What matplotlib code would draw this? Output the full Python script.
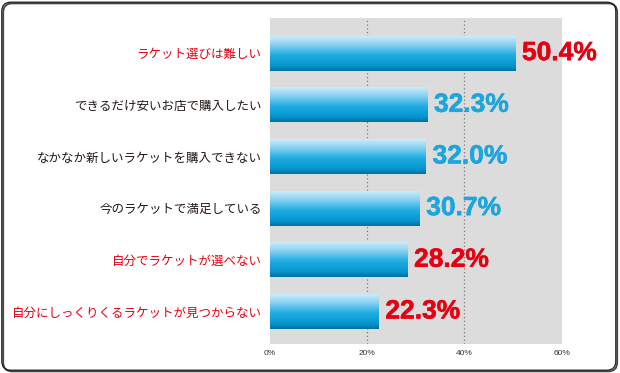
import matplotlib
matplotlib.use("Agg")
import numpy as np
import matplotlib.pyplot as plt
import matplotlib.patheffects as pe
from matplotlib.colors import LinearSegmentedColormap
from matplotlib.patches import FancyBboxPatch

# data
categories = [
    "ラケット選びは難しい",
    "できるだけ安いお店で購入したい",
    "なかなか新しいラケットを購入できない",
    "今のラケットで満足している",
    "自分でラケットが選べない",
    "自分にしっくりくるラケットが見つからない",
]
values = [50.4, 32.3, 32.0, 30.7, 28.2, 22.3]
highlight = [True, False, False, False, True, True]
xticks = [0, 20, 40, 60]
xtick_labels = ["0%", "20%", "40%", "60%"]

RED = "#e50012"
BLUE_TXT = "#1ca6dc"
DARK = "#231815"
BG = "#dcdcdd"

fig = plt.figure(figsize=(6.2, 3.73), dpi=100)
fig.patch.set_facecolor("white")

# rounded frame (inches, 100 px per inch) with a small drop shadow
W, H = 620, 373
tr = fig.dpi_scale_trans
shadow = FancyBboxPatch((3.2 / 100, 1.6 / 100), 614.0 / 100, 368.0 / 100,
                        boxstyle="round,pad=0,rounding_size=0.09",
                        transform=tr, fill=False, ec="#444444", lw=1.3, zorder=0)
frame = FancyBboxPatch((1.8 / 100, 2.8 / 100), 614.0 / 100, 368.0 / 100,
                       boxstyle="round,pad=0,rounding_size=0.09",
                       transform=tr, fill=False, ec="#1a1a1a", lw=0.9, zorder=1)
fig.patches.extend([shadow, frame])

ax = fig.add_axes([270 / W, (H - 344) / H, (561.7 - 270) / W, (344 - 18) / H])
ax.set_facecolor(BG)

y = np.arange(len(categories))
bar_h = 0.68

cmap = LinearSegmentedColormap.from_list(
    "barfade",
    [(0.0, "#d4f0fc"), (0.25, "#8fd3f2"), (0.55, "#21ade2"),
     (0.85, "#0596cf"), (1.0, "#00709e")])
grad = np.linspace(0, 1, 256).reshape(-1, 1)

bars = ax.barh(y, values, height=bar_h, color="none", edgecolor="none")
for b in bars:
    x0, y0 = b.get_x(), b.get_y()
    im = ax.imshow(grad, cmap=cmap, aspect="auto",
                   extent=[x0, x0 + b.get_width(), y0 + b.get_height(), y0],
                   zorder=2, interpolation="bicubic")
    im.set_clip_path(b)

for yi, v, hl in zip(y, values, highlight):
    c = RED if hl else BLUE_TXT
    ax.annotate(f"{v:.1f}%", xy=(v, yi), xytext=(5, 0), textcoords="offset points",
                va="center", ha="left", fontsize=19, fontweight="bold",
                family=["Liberation Sans", "DejaVu Sans"], color=c, zorder=4,
                annotation_clip=False,
                path_effects=[pe.withStroke(linewidth=0.4, foreground=c)])

for gx in [20, 40]:
    ax.axvline(gx, color="#7a7a7a", lw=0.9, ls=(0, (1, 2)), zorder=1)

ax.set_xlim(0, 60)
ax.set_ylim(len(categories) - 1 + 0.63, -0.68)
ax.set_xticks(xticks)
ax.set_xticklabels(xtick_labels, fontsize=6, color="#333333",
                   family=["Liberation Sans", "DejaVu Sans"])
ax.set_yticks(y)
ax.set_yticklabels(categories, fontsize=9, family=["Noto Sans CJK JP", "DejaVu Sans"])
for lab, hl in zip(ax.get_yticklabels(), highlight):
    lab.set_color(RED if hl else DARK)
ax.tick_params(axis="both", length=0)
ax.tick_params(axis="y", pad=6)
ax.tick_params(axis="x", pad=4)
for s in ax.spines.values():
    s.set_visible(False)

fig.savefig("out.png", dpi=100)
